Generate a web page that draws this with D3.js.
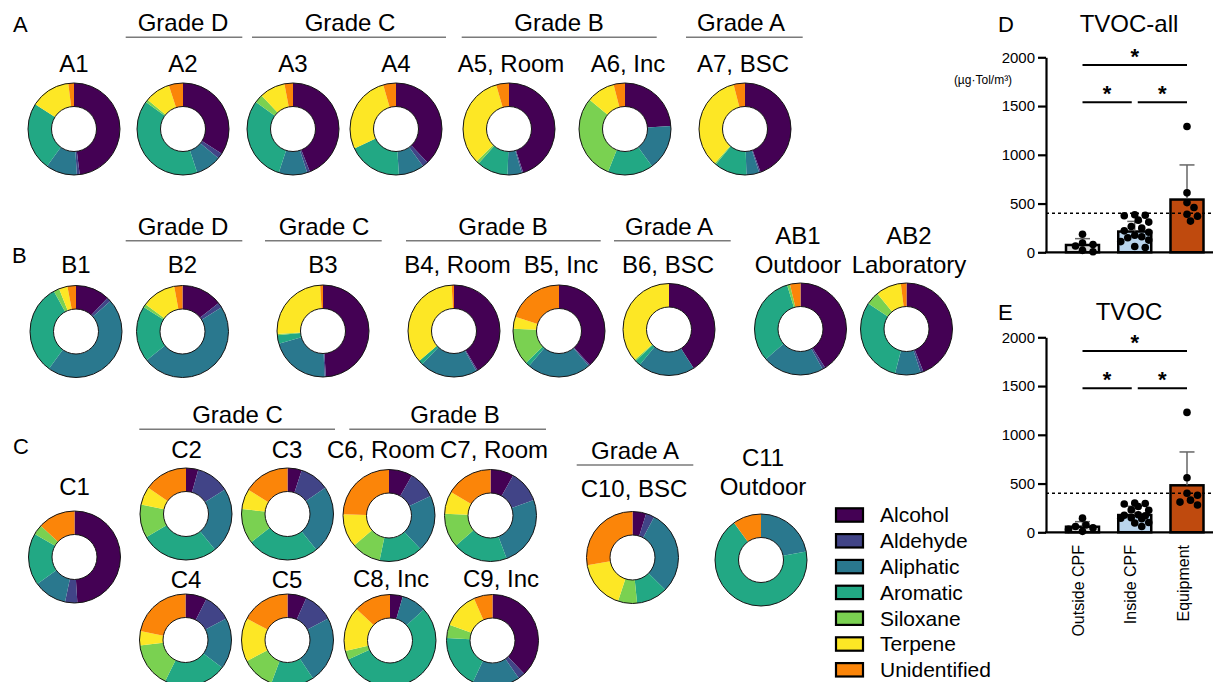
<!DOCTYPE html>
<html>
<head>
<meta charset="utf-8">
<script src="https://cdn.jsdelivr.net/npm/d3@7"></script>
<style>
body { margin: 0; background: #fff; }
text { font-family: "Liberation Sans", Arial, Helvetica, sans-serif; fill: #000; }
</style>
</head>
<body>
<svg id="fig"></svg>
<script>
// VOC classes, in the order the slices go round (clockwise from 12 o'clock)
const classes = ["Alcohol", "Aldehyde", "Aliphatic", "Aromatic", "Siloxane", "Terpene", "Unidentified"];
const classColors = ["#440154", "#414487", "#2a788e", "#22a884", "#7ad151", "#fde725", "#fb8509"];

const donutNames = ["A1", "A2", "A3", "A4", "A5", "A6", "A7",
  "B1", "B2", "B3", "B4", "B5", "B6", "AB1", "AB2",
  "C1", "C2", "C3", "C4", "C5", "C6", "C7", "C8", "C9", "C10", "C11"];
const donutTitles = [["A1"], ["A2"], ["A3"], ["A4"], ["A5, Room"], ["A6, Inc"], ["A7, BSC"],
  ["B1"], ["B2"], ["B3"], ["B4, Room"], ["B5, Inc"], ["B6, BSC"], ["AB1", "Outdoor"], ["AB2", "Laboratory"],
  ["C1"], ["C2"], ["C3"], ["C4"], ["C5"], ["C6, Room"], ["C7, Room"], ["C8, Inc"], ["C9, Inc"], ["C10, BSC"], ["C11", "Outdoor"]];
// share (%) per class
const donutShares = [
  [48, 1, 11, 24, 0, 14, 2],
  [34, 2, 9, 40, 1, 9, 5],
  [44, 1, 10, 30, 3, 9, 3],
  [38, 2, 9, 19, 0, 27.5, 4.5],
  [45, 0.5, 5, 11, 1, 33, 4.5],
  [24, 0, 16, 16, 30, 10, 4],
  [44.5, 0.5, 4.5, 11.5, 0.5, 34.5, 4],
  [12, 1.5, 46.5, 32, 2, 3, 3],
  [14.4, 1.8, 48, 19.7, 1.2, 12, 2.9],
  [49, 0.5, 21, 3, 0.5, 25, 1],
  [41.4, 0.5, 20.3, 1.5, 0, 35.5, 0.8],
  [38.3, 0.5, 22.5, 1.5, 13, 4.2, 20],
  [41, 0, 20, 2, 0.5, 36.5, 0],
  [41, 1, 21.6, 31.7, 1, 0, 3.7],
  [44, 1, 9, 30.4, 4.6, 9, 2],
  [49, 4.3, 11.7, 18.3, 3.6, 0, 13.1],
  [4.3, 11.8, 23, 27.5, 11.7, 6.4, 15.3],
  [5, 10.3, 23.9, 25.3, 12.2, 7.1, 16.2],
  [7.5, 9.8, 18, 22, 15.8, 5, 21.9],
  [6.7, 10.6, 23.4, 15, 11.7, 15.3, 17.3],
  [8.3, 9.7, 20, 15.3, 10.4, 11.7, 24.6],
  [8.2, 11.3, 24.8, 19.3, 12, 7.9, 16.5],
  [4.5, 0, 8.7, 55, 3.1, 15.7, 13],
  [37.9, 2.4, 16.7, 18.9, 4.7, 12.8, 6.6],
  [4.8, 3, 29.6, 11, 6.7, 17.2, 27.7],
  [0, 0, 22, 68, 0, 0, 10]
];

// TVOC panels
const groupNames = ["Outside CPF", "Inside CPF", "Equipment"];
const yTicks = [0, 500, 1000, 1500, 2000];
const limitValue = 400;

const allMean = [75, 213, 541];
const allSd = [65, 104, 355];
const allOutside = [185, 95, 80, 65, 20, 5];
const allInside = [385, 375, 380, 330, 310, 265, 250, 220, 205, 175, 160, 150, 125, 110, 60, 50];
const allEquipment = [1290, 610, 510, 460, 390, 370, 320];

const tvocMean = [57, 177, 482];
const tvocSd = [52, 90, 342];
const tvocOutside = [145, 75, 60, 45, 30, 10];
const tvocInside = [300, 295, 290, 265, 230, 225, 180, 175, 170, 150, 145, 140, 100, 95, 60];
const tvocEquipment = [1230, 560, 400, 380, 330, 310, 280];

// ---------- layout ----------
const W = 1213, H = 682;
const svg = d3.select("#fig").attr("width", W).attr("height", H);

// [cx, cy, labelX, labelBaseline]
const donutPos = {
  A1: [74, 129, 74, 72], A2: [183, 129, 183, 72], A3: [293, 129, 293, 72], A4: [396, 129, 396, 72],
  A5: [509, 129, 511, 72], A6: [625, 129, 628, 72], A7: [745, 129, 743, 72],
  B1: [76, 331.5, 76, 273], B2: [182.5, 331.5, 182.5, 273], B3: [323, 331, 323, 273],
  B4: [454, 331, 457.5, 273], B5: [559, 331, 561, 273], B6: [669, 329.5, 668, 273],
  AB1: [800.5, 329, 798, 273], AB2: [906.5, 329, 909, 273],
  C1: [74.5, 557, 74.5, 495], C2: [186, 514, 186.5, 458], C3: [287.5, 514, 287, 458],
  C4: [185.5, 640, 186, 588], C5: [287.5, 640, 287, 588],
  C6: [389, 515.5, 381, 458], C7: [490.5, 515.5, 494, 458],
  C8: [390, 640.5, 391, 587], C9: [492.5, 640.5, 501, 587],
  C10: [632.5, 557.5, 634, 496.5], C11: [761, 560, 763, 495]
};
const rOuter = 46, rInner = 22.5;

// grade headers: [text, x1, x2, lineY, textX]
const headers = [
  ["Grade D", 125.7, 242.3, 37.3, 183], ["Grade C", 252, 446, 37.3, 350],
  ["Grade B", 461.7, 656.7, 37.3, 559], ["Grade A", 686, 802.7, 37.3, 741],
  ["Grade D", 125.7, 242.3, 240.7, 183], ["Grade C", 265, 381.7, 240.7, 324],
  ["Grade B", 406, 600.7, 240.7, 503], ["Grade A", 614, 730.7, 240.7, 669],
  ["Grade C", 139.3, 335, 429.3, 237.5], ["Grade B", 349.3, 546, 429.3, 455],
  ["Grade A", 576.7, 693.3, 465, 635]
];

const panelLetters = [["A", 13, 32], ["B", 12, 263], ["C", 13, 454], ["D", 998, 32], ["E", 998, 320]];
svg.selectAll(".plabel").data(panelLetters).join("text")
  .attr("class", "plabel")
  .attr("x", d => d[1])
  .attr("y", d => d[2])
  .attr("font-size", 22)
  .text(d => d[0]);

// headers
const hg = svg.append("g");
headers.forEach(h => {
  hg.append("line")
    .attr("x1", h[1]).attr("x2", h[2]).attr("y1", h[3]).attr("y2", h[3])
    .attr("stroke", "#7a7a7a").attr("stroke-width", 1.5);
  hg.append("text")
    .attr("x", h[4]).attr("y", h[3] - 6)
    .attr("text-anchor", "middle")
    .attr("font-size", 24)
    .text(h[0]);
});

// donuts
const pie = d3.pie().sort(null).value(d => d);
const arc = d3.arc().innerRadius(rInner).outerRadius(rOuter);

donutNames.forEach((name, i) => {
  const p = donutPos[name];
  const g = svg.append("g").attr("transform", `translate(${p[0]},${p[1]})`);
  g.selectAll("path")
    .data(pie(donutShares[i]))
    .join("path")
    .attr("d", arc)
    .attr("fill", (d, j) => classColors[j]);
  [rOuter, rInner].forEach(r => {
    g.append("circle").attr("r", r)
      .attr("fill", "none").attr("stroke", "#151515").attr("stroke-width", 1);
  });
  const lines = donutTitles[i];
  lines.forEach((t, k) => {
    svg.append("text")
      .attr("x", p[2])
      .attr("y", p[3] - (lines.length - 1 - k) * 29.5)
      .attr("text-anchor", "middle")
      .attr("font-size", 24)
      .text(t);
  });
});

// legend
const lg = svg.append("g");
classes.forEach((c, i) => {
  const cy = 515 + i * 25.8;
  lg.append("rect")
    .attr("x", 836).attr("y", cy - 6.7)
    .attr("width", 27).attr("height", 13.4)
    .attr("fill", classColors[i])
    .attr("stroke", "#000").attr("stroke-width", 2.2);
  lg.append("text")
    .attr("x", 880).attr("y", cy)
    .attr("dy", "0.35em")
    .attr("font-size", 21)
    .text(c);
});

// ---------- bar panels ----------
const barColors = ["#d9d9d9", "#b9d4ec", "#bf4a0e"];
const xPos = d3.scalePoint().domain(groupNames).range([1082.5, 1187]);
const barW = 33, dotR = 3.8;

// simple dodge so the points sit side by side, kept inside the bar width
function dodge(values, y) {
  const placed = [];
  const cands = [0];
  for (let k = 1; k * 3.5 <= 15; k++) cands.push(k * 3.5, -k * 3.5);
  values.slice().sort((a, b) => b - a).forEach(v => {
    const yy = y(v);
    let best = 0, bestGap = -1;
    for (const cx of cands) {
      const gap = placed.length ? d3.min(placed, q => Math.hypot(q.x - cx, q.y - yy)) : 99;
      if (gap >= 2 * dotR - 0.3) { best = cx; bestGap = gap; break; }
      if (gap > bestGap) { best = cx; bestGap = gap; }
    }
    placed.push({ x: best, y: yy });
  });
  return placed;
}

function drawPanel(opt) {
  const g = svg.append("g");
  const y = d3.scaleLinear().domain([0, 2000]).range([opt.y0, opt.y0 - 195]);

  g.append("text")
    .attr("x", 1129).attr("y", opt.titleY)
    .attr("text-anchor", "middle").attr("font-size", 24)
    .text(opt.title);

  // bars
  g.selectAll("rect.bar")
    .data(groupNames)
    .join("rect")
    .attr("class", "bar")
    .attr("x", d => xPos(d) - barW / 2)
    .attr("y", (d, i) => y(opt.mean[i]))
    .attr("width", barW)
    .attr("height", (d, i) => y(0) - y(opt.mean[i]))
    .attr("fill", (d, i) => barColors[i])
    .attr("stroke", "#000").attr("stroke-width", 2.5);

  // error bars (upper only)
  groupNames.forEach((d, i) => {
    const x = xPos(d), yt = y(opt.mean[i] + opt.sd[i]);
    g.append("line").attr("x1", x).attr("x2", x)
      .attr("y1", y(opt.mean[i])).attr("y2", yt)
      .attr("stroke", "#666").attr("stroke-width", 1.5);
    g.append("line").attr("x1", x - 7.5).attr("x2", x + 7.5)
      .attr("y1", yt).attr("y2", yt)
      .attr("stroke", "#666").attr("stroke-width", 1.5);
  });

  // limit line
  g.append("line")
    .attr("x1", 1046).attr("x2", W)
    .attr("y1", y(limitValue)).attr("y2", y(limitValue))
    .attr("stroke", "#000").attr("stroke-width", 1.6)
    .attr("stroke-dasharray", "3,3");

  // points
  opt.points.forEach((vals, i) => {
    g.append("g").selectAll("circle")
      .data(dodge(vals, y))
      .join("circle")
      .attr("cx", d => xPos(groupNames[i]) + d.x)
      .attr("cy", d => d.y)
      .attr("r", dotR)
      .attr("fill", "#000");
  });

  // axes
  const ax = g.append("g")
    .attr("transform", "translate(1046,0)")
    .call(d3.axisLeft(y).tickValues(yTicks).tickFormat(d3.format("d"))
      .tickSize(8).tickSizeOuter(0).tickPadding(3));
  ax.select(".domain").attr("stroke-width", 2.2);
  ax.selectAll(".tick line").attr("stroke-width", 2.2);
  ax.selectAll(".tick text").attr("font-size", 15).attr("font-family", "Liberation Sans, Arial, sans-serif");
  g.append("line")
    .attr("x1", 1045).attr("x2", W)
    .attr("y1", y(0)).attr("y2", y(0))
    .attr("stroke", "#000").attr("stroke-width", 2.2);

  // significance brackets
  const sig = [
    [xPos(groupNames[0]), xPos(groupNames[2]), opt.sigTop],
    [xPos(groupNames[0]), xPos(groupNames[1]) - 3, opt.sigLow],
    [xPos(groupNames[1]) + 3, xPos(groupNames[2]), opt.sigLow]
  ];
  sig.forEach(s => {
    g.append("line").attr("x1", s[0]).attr("x2", s[1])
      .attr("y1", y(s[2])).attr("y2", y(s[2]))
      .attr("stroke", "#000").attr("stroke-width", 2);
    g.append("text")
      .attr("x", (s[0] + s[1]) / 2).attr("y", y(s[2]) - 1)
      .attr("text-anchor", "middle").attr("font-size", 22).attr("font-weight", "bold")
      .text("*");
  });
  return y;
}

drawPanel({
  title: "TVOC-all", titleY: 32, y0: 252.3,
  mean: allMean, sd: allSd, points: [allOutside, allInside, allEquipment],
  sigTop: 1920, sigLow: 1540
});
svg.append("text")
  .attr("x", 983).attr("y", 84)
  .attr("text-anchor", "middle").attr("font-size", 12)
  .text("(µg·Tol/m³)");

drawPanel({
  title: "TVOC", titleY: 320, y0: 532.3,
  mean: tvocMean, sd: tvocSd, points: [tvocOutside, tvocInside, tvocEquipment],
  sigTop: 1860, sigLow: 1478
});

// rotated category labels under panel E
svg.append("g").selectAll("text")
  .data(groupNames)
  .join("text")
  .attr("transform", d => `translate(${xPos(d) - 4},545) rotate(-90)`)
  .attr("dy", "0.35em")
  .attr("text-anchor", "end")
  .attr("font-size", 16)
  .text(d => d);
</script>
</body>
</html>
